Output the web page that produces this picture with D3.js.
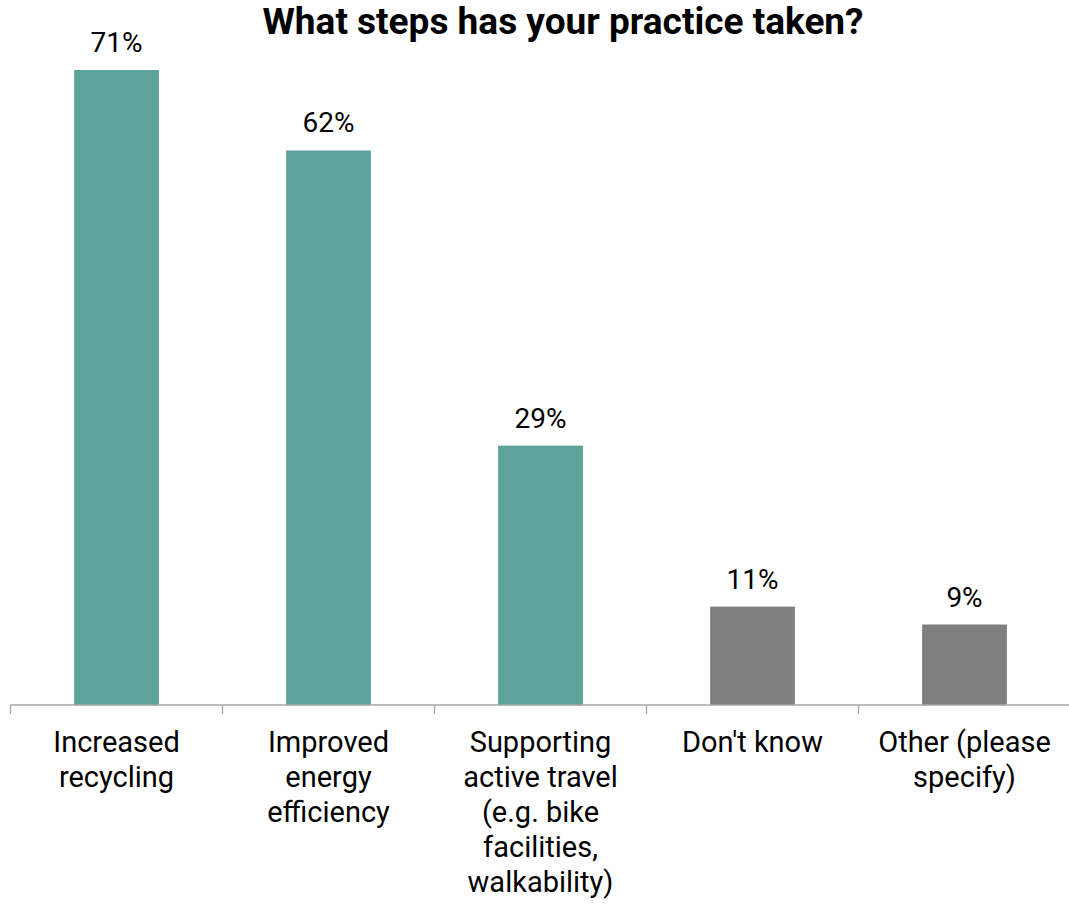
<!DOCTYPE html>
<html>
<head>
<meta charset="utf-8">
<script src="https://cdn.jsdelivr.net/npm/d3@7"></script>
<style>
  body { margin: 0; background: #fff; }
  text { font-family: Roboto, "Noto Sans", sans-serif; }
</style>
</head>
<body>
<svg id="chart" width="1069" height="904"></svg>
<script>
const title = "What steps has your practice taken?";
const categories = ["Increased recycling", "Improved energy efficiency", "Supporting active travel", "Don't know", "Other (please specify)"];
const labelLines = [
  ["Increased", "recycling"],
  ["Improved", "energy", "efficiency"],
  ["Supporting", "active travel", "(e.g. bike", "facilities,", "walkability)"],
  ["Don't know"],
  ["Other (please", "specify)"]
];
const values = [71, 62, 29, 11, 9];
const barColors = ["#5ea39a", "#5ea39a", "#5ea39a", "#808080", "#808080"];

const svg = d3.select('#chart');
const baseY = 705;

const x = d3.scaleBand()
  .domain(categories)
  .range([10.5, 1070.5])
  .paddingInner(0.6)
  .paddingOuter(0.3);
const y = d3.scaleLinear().domain([0, 71]).range([baseY, 70]);

// title
svg.append("text")
  .attr("x", 563)
  .attr("y", 34)
  .attr("text-anchor", "middle")
  .style("font-size", "37px")
  .style("font-weight", "bold")
  .text(title);

// bars
svg.selectAll(".bar")
  .data(categories)
  .join("rect")
  .attr("class", "bar")
  .attr("x", d => x(d))
  .attr("y", (d, i) => y(values[i]))
  .attr("width", x.bandwidth())
  .attr("height", (d, i) => baseY - y(values[i]))
  .attr("fill", (d, i) => barColors[i]);

// value labels
svg.selectAll(".val")
  .data(categories)
  .join("text")
  .attr("class", "val")
  .attr("x", d => x(d) + x.bandwidth() / 2)
  .attr("y", (d, i) => y(values[i]) - 18)
  .attr("text-anchor", "middle")
  .style("font-size", "28px")
  .style("fill", "#000")
  .text((d, i) => values[i] + "%");

// axis line and ticks at category boundaries
const step = x.step();
const start = x(categories[0]) - step * 0.3;
const axis = svg.append("g").attr("class", "x-axis");
axis.append("line")
  .attr("x1", start).attr("x2", 1069)
  .attr("y1", baseY).attr("y2", baseY)
  .attr("stroke", "#a6a6a6").attr("stroke-width", 1.3);
axis.selectAll(".tick")
  .data(d3.range(categories.length + 1))
  .join("line")
  .attr("class", "tick")
  .attr("x1", i => start + i * step).attr("x2", i => start + i * step)
  .attr("y1", baseY).attr("y2", baseY + 9)
  .attr("stroke", "#a6a6a6").attr("stroke-width", 1.3);

// category labels
const lab = svg.selectAll(".cat")
  .data(categories)
  .join("text")
  .attr("class", "cat")
  .attr("x", d => x(d) + x.bandwidth() / 2)
  .attr("y", 752)
  .attr("text-anchor", "middle")
  .style("font-size", "29px")
  .style("fill", "#000");
lab.selectAll("tspan")
  .data((d, i) => labelLines[i])
  .join("tspan")
  .attr("x", function () { return d3.select(this.parentNode).attr("x"); })
  .attr("dy", (d, j) => j === 0 ? 0 : 35)
  .text(d => d);
</script>
</body>
</html>
